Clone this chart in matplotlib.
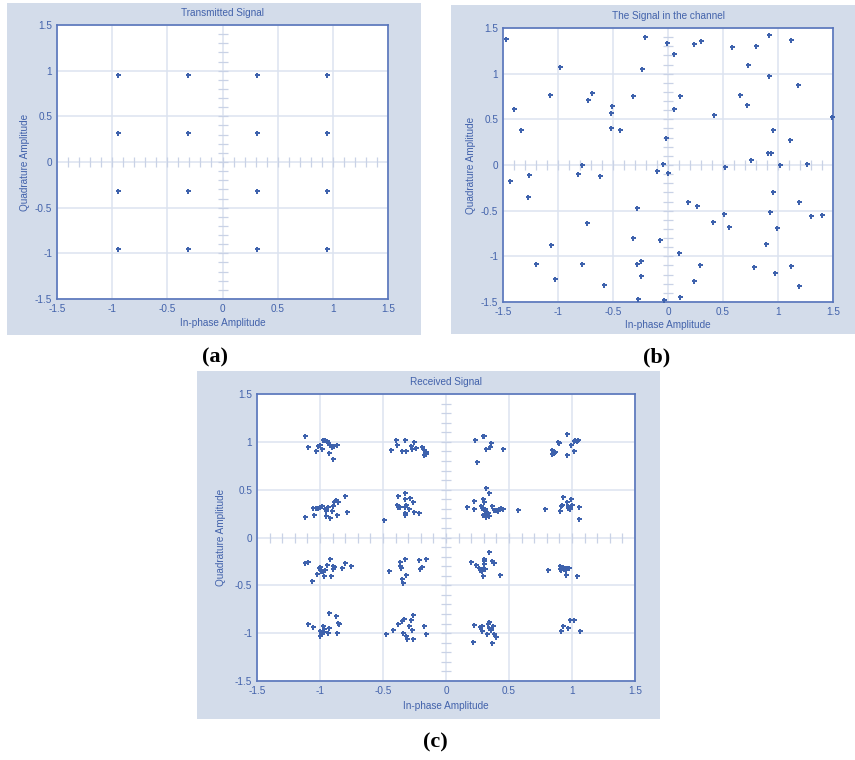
import numpy as np
import matplotlib.pyplot as plt
from matplotlib.patches import Rectangle

W, H = 855, 760
PANEL_BG = "#d3dcea"
GRID_C = "#dce3f0"
CROSS_C = "#c9d2e6"
TXT_C = "#4262ab"
SPINE_C = "#5774bb"
MARK_C = "#3e62ad"

plt.rcParams.update({
    "font.family": ["Liberation Sans", "DejaVu Sans"],
    "font.size": 7.2,
    "axes.unicode_minus": False,
})

# ---- data -------------------------------------------------------------
tick_vals = [-1.5, -1, -0.5, 0, 0.5, 1, 1.5]
tick_text = ["-1.5", "-1", "-0.5", "0", "0.5", "1", "1.5"]

# (a) transmitted 16-QAM points
tx_i = [-0.949, -0.316, 0.316, 0.949, -0.949, -0.316, 0.316, 0.949,
        -0.949, -0.316, 0.316, 0.949, -0.949, -0.316, 0.316, 0.949]
tx_q = [0.949, 0.949, 0.949, 0.949, 0.316, 0.316, 0.316, 0.316,
        -0.316, -0.316, -0.316, -0.316, -0.949, -0.949, -0.949, -0.949]

# (b) signal in the channel
ch_i = [-1.47, -1.40, -1.34, -1.44, -1.26, -1.27, -1.20, -1.07, -0.98, -1.06,
        -1.03, -0.82, -0.78, -0.74, -0.78, -0.73, -0.69, -0.62, -0.58, -0.52,
        -0.51, -0.52, -0.44, -0.32, -0.28, -0.32, -0.28, -0.25, -0.25, -0.27,
        -0.24, -0.21, -0.10, -0.05, -0.02, 0.00, -0.07, -0.04, -0.01, 0.05,
        0.05, 0.11, 0.10, 0.11, 0.18, 0.26, 0.24, 0.30, 0.29, 0.24,
        0.41, 0.42, 0.51, 0.52, 0.55, 0.58, 0.65, 0.72, 0.73, 0.75,
        0.80, 0.78, 0.92, 0.92, 0.91, 0.94, 0.95, 0.95, 0.93, 0.89,
        0.99, 0.97, 1.02, 1.11, 1.12, 1.18, 1.19, 1.12, 1.19, 1.26,
        1.30, 1.40, 1.49]
ch_q = [1.38, 0.61, 0.38, -0.17, -0.11, -0.35, -1.08, 0.77, 1.07, -0.88,
        -1.25, -0.10, 0.00, -0.64, -1.08, 0.71, 0.79, -0.12, -1.31, 0.57,
        0.65, 0.41, 0.38, 0.76, -0.47, -0.80, -1.08, -1.05, -1.22, -1.47,
        1.05, 1.40, -0.07, 0.01, 0.30, -0.09, -0.82, -1.48, 1.34, 1.22,
        0.61, 0.76, -0.96, -1.45, -0.41, -0.45, 1.32, 1.36, -1.09, -1.27,
        -0.62, 0.55, -0.54, -0.02, -0.68, 1.29, 0.77, 0.66, 1.09, 0.06,
        1.30, -1.12, 1.42, 0.97, 0.13, 0.13, 0.38, -0.30, -0.52, -0.87,
        -0.69, -1.18, 0.00, 0.27, 1.37, 0.88, -0.41, -1.11, -1.33, 0.01,
        -0.56, -0.55, 0.53]

# (c) received signal
rx_i = [
    # (-0.95, 0.95)
    -1.122, -1.093, -1.029, -1.019, -1.003, -0.981, -0.974, -0.960, -0.947, -0.937,
    -0.929, -0.918, -0.902, -0.894, -0.886, -0.868,
    # (-0.32, 0.95)
    -0.437, -0.397, -0.389, -0.352, -0.329, -0.321, -0.278, -0.273, -0.252, -0.236,
    -0.191, -0.175, -0.167, -0.162, -0.173, -0.157,
    # (0.32, 0.95)
    0.232, 0.245, 0.292, 0.303, 0.321, 0.351, 0.358, 0.456,
    # (0.95, 0.95)
    0.839, 0.842, 0.855, 0.868, 0.887, 0.900, 0.964, 0.964, 0.993, 1.017,
    1.025, 1.038, 1.051, 1.019,
    # (-0.95, 0.32)
    -1.119, -1.053, -1.050, -1.034, -1.019, -1.003, -0.981, -0.963, -0.952, -0.950,
    -0.934, -0.918, -0.907, -0.894, -0.886, -0.876, -0.860, -0.868, -0.802, -0.789,
    # (-0.32, 0.32)
    -0.495, -0.389, -0.381, -0.379, -0.366, -0.329, -0.323, -0.323, -0.318, -0.326,
    -0.323, -0.297, -0.289, -0.265, -0.257, -0.212,
    # (0.32, 0.32)
    0.165, 0.224, 0.224, 0.276, 0.284, 0.292, 0.300, 0.295, 0.308, 0.316,
    0.321, 0.337, 0.343, 0.345, 0.366, 0.382, 0.398, 0.414, 0.422, 0.435,
    0.451, 0.570, 0.306, 0.327,
    # (0.95, 0.32)
    0.789, 0.908, 0.916, 0.924, 0.932, 0.964, 0.972, 0.982, 0.993, 1.001,
    1.056, 1.059, 0.966,
    # (-0.95, -0.32)
    -1.119, -1.093, -1.063, -1.021, -1.011, -0.997, -0.989, -0.974, -0.968, -0.960,
    -0.947, -0.921, -0.915, -0.900, -0.894, -0.889, -0.826, -0.802, -0.752,
    # (-0.32, -0.32)
    -0.450, -0.368, -0.363, -0.358, -0.347, -0.339, -0.323, -0.315, -0.218, -0.204,
    -0.188, -0.159,
    # (0.32, -0.32)
    0.202, 0.240, 0.258, 0.269, 0.277, 0.284, 0.292, 0.303, 0.303, 0.303,
    0.295, 0.308, 0.345, 0.366, 0.382, 0.430,
    # (0.95, -0.32)
    0.810, 0.903, 0.906, 0.916, 0.927, 0.940, 0.950, 0.961, 0.975, 0.956, 1.043,
    # (-0.95, -0.95)
    -1.093, -1.053, -0.997, -0.997, -0.989, -0.979, -0.966, -0.966, -0.937, -0.931,
    -0.929, -0.873, -0.855, -0.847, -0.868,
    # (-0.32, -0.95)
    -0.474, -0.424, -0.379, -0.347, -0.337, -0.344, -0.318, -0.307, -0.292, -0.276,
    -0.262, -0.268, -0.262, -0.175, -0.162,
    # (0.32, -0.95)
    0.218, 0.226, 0.266, 0.284, 0.287, 0.329, 0.335, 0.345, 0.343, 0.358,
    0.372, 0.377, 0.395, 0.366,
    # (0.95, -0.95)
    0.916, 0.929, 0.972, 0.982, 1.014, 1.064,
]
rx_q = [
    1.056, 0.941, 0.899, 0.958, 0.972, 0.930, 1.021, 1.014, 1.010, 0.993,
    0.888, 0.972, 0.951, 0.822, 0.958, 0.962,
    0.916, 1.024, 0.972, 0.899, 1.017, 0.899, 0.955, 0.927, 1.000, 0.934,
    0.951, 0.913, 0.888, 0.874, 0.864, 0.895,
    1.024, 0.784, 1.056, 1.066, 0.923, 0.941, 0.990, 0.930,
    0.878, 0.916, 0.885, 0.892, 1.000, 0.983, 1.080, 0.867, 0.962, 1.007,
    1.017, 1.010, 1.017, 0.899,
    0.215, 0.305, 0.236, 0.305, 0.312, 0.319, 0.330, 0.295, 0.225, 0.277,
    0.322, 0.204, 0.281, 0.326, 0.375, 0.389, 0.375, 0.236, 0.431, 0.271,
    0.187, 0.337, 0.431, 0.323, 0.319, 0.466, 0.400, 0.323, 0.337, 0.260,
    0.239, 0.295, 0.417, 0.372, 0.271, 0.260,
    0.319, 0.382, 0.298, 0.326, 0.312, 0.407, 0.368, 0.239, 0.274, 0.211,
    0.522, 0.257, 0.222, 0.466, 0.330, 0.288, 0.288, 0.274, 0.298, 0.309,
    0.298, 0.288, 0.302, 0.243,
    0.298, 0.281, 0.330, 0.344, 0.421, 0.372, 0.333, 0.295, 0.403, 0.337,
    0.319, 0.194, 0.309,
    -0.267, -0.257, -0.456, -0.379, -0.316, -0.309, -0.354, -0.351, -0.407, -0.344,
    -0.288, -0.229, -0.400, -0.333, -0.295, -0.312, -0.323, -0.267, -0.298,
    -0.347, -0.302, -0.260, -0.316, -0.435, -0.473, -0.222, -0.393, -0.232, -0.326,
    -0.309, -0.222,
    -0.257, -0.291, -0.323, -0.340, -0.326, -0.351, -0.333, -0.225, -0.250, -0.274,
    -0.400, -0.333, -0.155, -0.250, -0.271, -0.393,
    -0.340, -0.295, -0.330, -0.337, -0.312, -0.326, -0.337, -0.316, -0.323, -0.389, -0.407,
    -0.909, -0.937, -0.979, -1.028, -1.007, -0.920, -0.955, -0.993, -1.000, -0.951,
    -0.784, -0.819, -0.895, -0.909, -1.000,
    -1.007, -0.972, -0.902, -0.878, -0.850, -0.997, -1.031, -1.063, -0.920, -0.864,
    -0.812, -0.972, -1.056, -0.920, -1.007,
    -1.091, -0.913, -0.934, -0.930, -0.979, -1.007, -0.899, -0.885, -0.951, -0.969,
    -0.920, -1.007, -1.035, -1.108,
    -0.979, -0.923, -0.951, -0.867, -0.860, -0.979,
]

# ---- layout (pixel boxes from the reference) --------------------------
def fig_box(x0, y0, x1, y1):
    return [x0 / W, 1 - y1 / H, (x1 - x0) / W, (y1 - y0) / H]


fig = plt.figure(figsize=(W / 100, H / 100), dpi=100)
fig.patch.set_facecolor("white")

for x0, y0, x1, y1 in [(7, 3, 421, 335), (451, 5, 855, 334), (197, 371, 660, 719)]:
    b = fig_box(x0, y0, x1, y1)
    fig.patches.append(Rectangle((b[0], b[1]), b[2], b[3], transform=fig.transFigure,
                                 facecolor=PANEL_BG, edgecolor="none", zorder=-5))

minor = np.arange(-14, 15) / 10


def style_axes(ax, title, ylab_x, xlab_y):
    ax.set_facecolor("white")
    ax.set_xlim(-1.5, 1.5)
    ax.set_ylim(-1.5, 1.5)
    ax.set_xticks(tick_vals)
    ax.set_xticklabels(tick_text)
    ax.set_yticks(tick_vals)
    ax.set_yticklabels(tick_text)
    ax.tick_params(length=0, colors=TXT_C, pad=3.5)
    ax.grid(True, color=GRID_C, lw=1.1)
    ax.set_axisbelow(True)
    for s in ax.spines.values():
        s.set_color(SPINE_C)
        s.set_linewidth(1.2)
    # little ticks along the centre cross
    ax.plot(minor, np.zeros_like(minor), ls="none", marker="|", ms=6.5,
            mew=0.9, color=CROSS_C, zorder=1)
    ax.plot(np.zeros_like(minor), minor, ls="none", marker="_", ms=6.5,
            mew=0.9, color=CROSS_C, zorder=1)
    ax.set_title(title, color=TXT_C, fontsize=7.2, pad=6.5)
    ax.set_xlabel("In-phase Amplitude", color=TXT_C, va="center")
    ax.set_ylabel("Quadrature Amplitude", color=TXT_C, va="center")
    ax.xaxis.set_label_coords(0.5, xlab_y)
    ax.yaxis.set_label_coords(ylab_x, 0.5)


ax_a = fig.add_axes(fig_box(57, 25, 388, 299))
style_axes(ax_a, "Transmitted Signal", -0.097, -0.088)
ax_a.plot(tx_i, tx_q, ls="none", marker="P", ms=3.6, color=MARK_C, mew=0, zorder=3)

ax_b = fig.add_axes(fig_box(503, 28, 833, 302))
style_axes(ax_b, "The Signal in the channel", -0.098, -0.085)
ax_b.plot(ch_i, ch_q, ls="none", marker="P", ms=3.6, color=MARK_C, mew=0, zorder=3,
          clip_on=False)

ax_c = fig.add_axes(fig_box(257, 394, 635, 681))
style_axes(ax_c, "Received Signal", -0.095, -0.088)
ax_c.plot(rx_i, rx_q, ls="none", marker="P", ms=3.6, color=MARK_C, mew=0, zorder=3)

# panel letters
for x, y, letter in [(215, 357, "a"), (657, 357, "b"), (435, 742, "c")]:
    fig.text(x / W, 1 - y / H, f"({letter})", ha="center", va="center",
             fontsize=16, fontweight="bold", family=["Liberation Serif", "DejaVu Serif"])

fig.savefig("out.png", dpi=100)
